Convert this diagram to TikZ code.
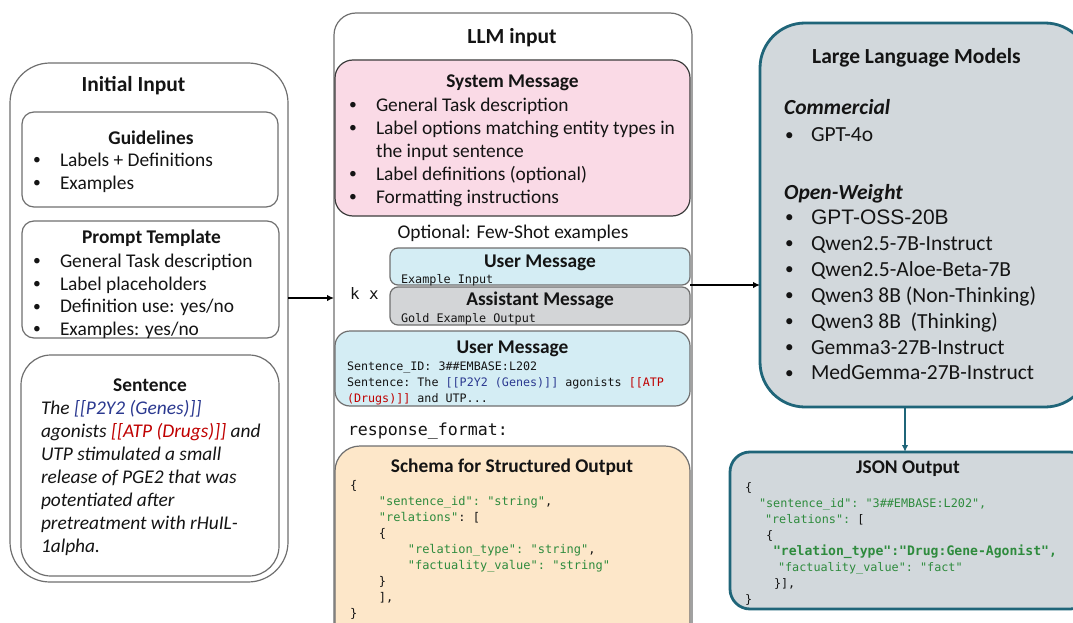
\documentclass[tikz,border=0pt]{standalone}
\usepackage{fontspec}
\setmainfont{Carlito}
\setmonofont{DejaVu Sans Mono}
\newfontfamily\arialf{Liberation Sans}
\usetikzlibrary{arrows.meta,calc}
\definecolor{boxgray}{HTML}{6F6F6F}
\definecolor{darkline}{HTML}{3C3C3C}
\definecolor{pinkfill}{HTML}{FADAE6}
\definecolor{bluefill}{HTML}{D4EDF4}
\definecolor{asstfill}{HTML}{D3D5D7}
\definecolor{peachfill}{HTML}{FDE7C9}
\definecolor{llmfill}{HTML}{D2D8DC}
\definecolor{tealc}{HTML}{1F6579}
\definecolor{txtblue}{HTML}{2B3990}
\definecolor{txtred}{HTML}{C00000}
\definecolor{txtgreen}{HTML}{2E8B3D}
\definecolor{ink}{HTML}{141414}
\newcommand\bl[1]{\makebox[#1][l]{\raisebox{0.08em}{\scalebox{0.8}{\textbullet}}}}
\newcommand\msp{\ }
\begin{document}
\begin{tikzpicture}[x=1pt,y=-1pt,
  box/.style={draw=boxgray, line width=1.2pt, rectangle, inner sep=0pt, outer sep=0pt, fill=white},
  tealbox/.style={draw=tealc, line width=2.8pt, rectangle, inner sep=0pt, outer sep=0pt, fill=llmfill},
  body/.style={inner sep=0pt, outer sep=0pt, anchor=base west, align=left, text=ink, font=\fontsize{19.4}{23}\selectfont},
  bigtitle/.style={inner sep=0pt, outer sep=0pt, anchor=base, text=ink, font=\fontsize{21.5}{26}\selectfont\bfseries},
  subtitle/.style={inner sep=0pt, outer sep=0pt, anchor=base, text=ink, font=\fontsize{19.4}{23}\selectfont\bfseries},
  mono/.style={inner sep=0pt, outer sep=0pt, anchor=base west, align=left, text=ink, font=\fontsize{11.8}{16}\selectfont\ttfamily},
  arr/.style={line width=1.8pt, -{Latex[length=7pt,width=6.5pt]}},
  tealarr/.style={draw=tealc, line width=2.2pt, -{Latex[length=7pt,width=6.5pt]}}
]
\clip (0,0) rectangle (1073,623);
\fill[white] (0,0) rectangle (1073,623);

% multi-line text nodes are placed by the baseline of their LAST line

% ---------- Initial Input ----------
\node[box, rounded corners=40pt, minimum width=278pt, minimum height=519pt] (initial) at (149,322.5) {};
\node[box, rounded corners=12pt, minimum width=256pt, minimum height=95pt] (guide) at (150,159.5) {};
\node[box, rounded corners=12pt, minimum width=257pt, minimum height=117pt] (prompt) at (150.5,279.5) {};
\node[box, rounded corners=30pt, minimum width=258pt, minimum height=221pt] (sent) at (150,465.5) {};

\node[bigtitle] (tinit) at (133.5,92) {Initial Input};
\node[subtitle] (tguide) at (151,144) {Guidelines};
\node[body] (lguide) at (33,189) {\bl{27pt}Labels + Definitions\\ \bl{27pt}Examples};
\node[subtitle] (tprompt) at (151.5,243) {Prompt Template};
\node[body, font=\fontsize{19.4}{22.6}\selectfont] (lprompt) at (33,335.3) {\bl{27pt}General Task description\\ \bl{27pt}Label placeholders\\ \bl{27pt}Definition use: yes/no\\ \bl{27pt}Examples: yes/no};
\node[subtitle] (tsent) at (150,391) {Sentence};
\node[body, font=\fontsize{19.4}{23}\selectfont\itshape] (lsent) at (41,552) {The \textcolor{txtblue}{[[P2Y2 (Genes)]]}\\ agonists \textcolor{txtred}{[[ATP (Drugs)]]} and\\ UTP stimulated a small\\ release of PGE2 that was\\ potentiated after\\ pretreatment with rHuIL-\\ 1alpha.};

% ---------- LLM input ----------
\node[box, rounded corners=22pt, minimum width=358pt, minimum height=660pt] (llmin) at (513,343) {};
\node[box, draw=darkline, fill=pinkfill, rounded corners=18pt, minimum width=355pt, minimum height=156pt] (sys) at (512.5,138) {};
\node[box, fill=bluefill, rounded corners=8pt, minimum width=300pt, minimum height=37pt] (fsu) at (540,266.5) {};
\node[box, fill=asstfill, rounded corners=8pt, minimum width=300pt, minimum height=38pt] (fsa) at (540,306) {};
\node[box, fill=bluefill, rounded corners=15pt, minimum width=355pt, minimum height=75pt] (user) at (512.5,368.5) {};
\node[box, fill=peachfill, rounded corners=25pt, minimum width=355pt, minimum height=228pt] (schema) at (512.5,560) {};

\node[bigtitle] (tllmin) at (512,44) {LLM input};
\node[subtitle] (tsys) at (512.5,88) {System Message};
\node[body] (lsys) at (349,203) {\bl{27pt}General Task description\\ \bl{27pt}Label options matching entity types in\\ \hspace*{27pt}the input sentence\\ \bl{27pt}Label definitions (optional)\\ \bl{27pt}Formatting instructions};
\node[inner sep=0pt, anchor=base, text=ink, font=\fontsize{19.4}{23}\selectfont] (topt) at (513,238) {Optional: Few-Shot examples};
\node[subtitle] (tfsu) at (540,267) {User Message};
\node[mono] (lfsu) at (401,283) {Example Input};
\node[subtitle] (tfsa) at (540,305) {Assistant Message};
\node[mono] (lfsa) at (401,322) {Gold Example Output};
\node[mono, font=\fontsize{15.8}{18}\selectfont\ttfamily] (kx) at (350,299) {k x};
\node[subtitle] (tuser) at (512.5,353) {User Message};
\node[mono, font=\fontsize{11.7}{16}\selectfont\ttfamily] (luser) at (347,402) {Sentence\_ID: 3\#\#EMBASE:L202\\ Sentence: The \textcolor{txtblue}{[[P2Y2 (Genes)]]} agonists \textcolor{txtred}{[[ATP}\\ \textcolor{txtred}{(Drugs)]]} and UTP...};
\node[mono, font=\fontsize{16.6}{20}\selectfont\ttfamily] (resp) at (348,435) {response\_format:};
\node[subtitle] (tschema) at (512,472) {Schema for Structured Output};
\node[mono, font=\fontsize{12}{16}\selectfont\ttfamily] (lschema) at (350,617) {\{\\
\msp\msp\msp\msp\textcolor{txtgreen}{"sentence\_id": "string"},\\
\msp\msp\msp\msp\textcolor{txtgreen}{"relations"}: [\\
\msp\msp\msp\msp\{\\
\msp\msp\msp\msp\msp\msp\msp\msp\textcolor{txtgreen}{"relation\_type": "string"},\\
\msp\msp\msp\msp\msp\msp\msp\msp\textcolor{txtgreen}{"factuality\_value": "string"}\\
\msp\msp\msp\msp\}\\
\msp\msp\msp\msp],\\
\}};

% ---------- Large Language Models ----------
\node[tealbox, rounded corners=45pt, minimum width=330pt, minimum height=384pt] (llm) at (925,215) {};
\node[tealbox, rounded corners=20pt, minimum width=360pt, minimum height=157pt] (json) at (910,530.5) {};

\node[bigtitle] (tllm) at (916.5,64) {Large Language Models};
\node[inner sep=0pt, anchor=base west, text=ink, font=\fontsize{21.5}{26}\selectfont\bfseries\itshape] (tcomm) at (784,115) {Commercial};
\node[body, font=\fontsize{21.5}{26}\selectfont] (lcomm) at (785,142) {\bl{26pt}GPT-4o};
\node[inner sep=0pt, anchor=base west, text=ink, font=\fontsize{21.5}{26}\selectfont\bfseries\itshape] (topen) at (784,199) {Open-Weight};
\node[body, font=\fontsize{21.5}{25.9}\selectfont] (lopen) at (785,379.9) {\bl{26pt}{\arialf\fontsize{21}{25.9}\selectfont GPT-OSS-20B}\\ \bl{26pt}Qwen2.5-7B-Instruct\\ \bl{26pt}Qwen2.5-Aloe-Beta-7B\\ \bl{26pt}Qwen3 8B (Non-Thinking)\\ \bl{26pt}Qwen3 8B\ \ (Thinking)\\ \bl{26pt}Gemma3-27B-Instruct\\ \bl{26pt}MedGemma-27B-Instruct};

\node[subtitle] (tjson) at (908,473) {JSON Output};
\node[mono, text=txtgreen] (ljson) at (745,603.5) {\textcolor{ink}{\{}\\
\hspace*{14pt}"sentence\_id": "3\#\#EMBASE:L202",\\
\hspace*{20pt}"relations": \textcolor{ink}{[}\\
\hspace*{21pt}\textcolor{ink}{\{}\\
\hspace*{28pt}{\fontsize{13.1}{16}\selectfont\bfseries "relation\_type":"Drug:Gene-Agonist",}\\
\hspace*{33pt}"factuality\_value": "fact"\\
\hspace*{29pt}\textcolor{ink}{\}],}\\
\textcolor{ink}{\}}};

% ---------- connectors ----------
\draw[arr] ([yshift=24.5pt]initial.east) -- ([yshift=24.5pt]initial.east -| llmin.west);
\draw[arr] (fsu.south east) -- (fsu.south east -| llm.west);
\draw[tealarr] ([xshift=-20pt]llm.south) -- ([xshift=-20pt]llm.south |- json.north);
\end{tikzpicture}
\end{document}
